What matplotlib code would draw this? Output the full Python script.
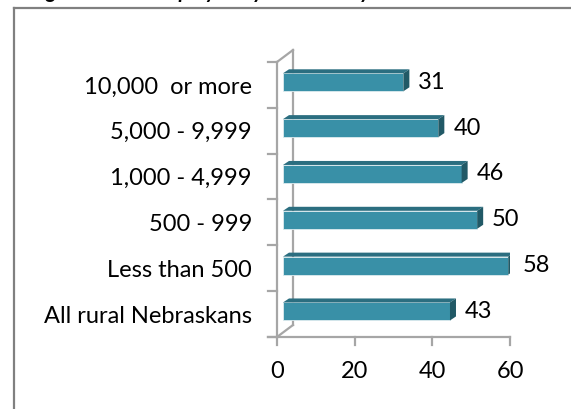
import matplotlib.pyplot as plt
from matplotlib.patches import Polygon
from matplotlib.lines import Line2D

# ============================================================
# Data
# ============================================================

categories = ['All rural Nebraskans', 'Less than 500', '500 - 999',
              '1,000 - 4,999', '5,000 - 9,999', '10,000  or more']
values = [43, 58, 50, 46, 40, 31]
xticks = [0, 20, 40, 60]

# ============================================================
# Style
# ============================================================

plt.rcParams['font.family'] = ['Lato', 'DejaVu Sans']
FRONT = '#3990A7'
TOP = '#2B6E80'
SIDE = '#215966'
AXIS = '#A6A6A6'
FS = 17
W, H = 571, 409

fig = plt.figure(figsize=(W / 100, H / 100), dpi=100)

# frame + clipped caption
fig.add_artist(Line2D([14 / W, 14 / W], [0, 1 - 8 / H], color='#808080', lw=1.6))
fig.add_artist(Line2D([14 / W, 1], [1 - 8 / H, 1 - 8 / H], color='#808080', lw=1.6))
fig.text(30 / W, 1 + 2.5 / H, 'Figure 6. Self-Employed by Community Size',
         fontsize=15, fontweight='bold', fontstyle='italic', va='baseline')

ax = fig.add_axes([277 / W, (H - 337) / H, 233 / W, 275 / H])
ax.set_xlim(0, 60)
ax.set_ylim(-0.5, len(categories) - 0.5)
for s in ax.spines.values():
    s.set_visible(False)
ax.patch.set_alpha(0)

# 3D-ish offsets (data units)
px_x = 60 / 233
px_y = len(categories) / 275
wall_dx, wall_dy = 16 * px_x, 12 * px_y
off_x, off_y = 6 * px_x, 4 * px_y
dep_x, dep_y = 6 * px_x, 4 * px_y
bar_h = 18 * px_y

# back wall + depth lines
n = len(categories)
ax.plot([wall_dx, wall_dx], [-0.5 + wall_dy, n - 0.5 + wall_dy], color=AXIS, lw=1.6, clip_on=False)
ax.plot([0, wall_dx], [n - 0.5, n - 0.5 + wall_dy], color=AXIS, lw=1.6, clip_on=False)
ax.plot([0, wall_dx], [-0.5, -0.5 + wall_dy], color=AXIS, lw=1.6, clip_on=False)
# front axes
ax.plot([0, 0], [-0.5, n - 0.5], color=AXIS, lw=1.6, clip_on=False)
ax.plot([-2.3, 60], [-0.5, -0.5], color=AXIS, lw=1.6, clip_on=False)
for k in range(n + 1):
    ax.plot([-2.3, 0], [k - 0.5, k - 0.5], color=AXIS, lw=1.6, clip_on=False)
for t in xticks:
    ax.plot([t, t], [-0.5, -0.5 - 8 * px_y], color=AXIS, lw=1.6, clip_on=False)

# bars
for i, v in enumerate(values):
    yc = i + off_y - 0.03
    x0, x1 = off_x, v + off_x
    y0, y1 = yc - bar_h / 2, yc + bar_h / 2
    ax.add_patch(Polygon([(x0, y0), (x1, y0), (x1, y1), (x0, y1)],
                         closed=True, fc=FRONT, ec='#DDEBEF', lw=0.6, zorder=3))
    ax.add_patch(Polygon([(x0, y1), (x1, y1), (x1 + dep_x, y1 + dep_y), (x0 + dep_x, y1 + dep_y)],
                         closed=True, fc=TOP, ec='none', zorder=3))
    ax.add_patch(Polygon([(x1, y0), (x1 + dep_x, y0 + dep_y), (x1 + dep_x, y1 + dep_y), (x1, y1)],
                         closed=True, fc=SIDE, ec='none', zorder=3))
    ax.text(x1 + dep_x + 2.3, yc, str(v), fontsize=FS, va='center', ha='left',
            clip_on=False)

ax.set_xticks(xticks)
ax.set_xticklabels([str(t) for t in xticks], fontsize=FS)
ax.set_yticks(range(n))
ax.set_yticklabels(categories, fontsize=FS)
ax.tick_params(axis='x', length=0, pad=17)
ax.tick_params(axis='y', length=0, pad=18)

fig.savefig('out.png', dpi=100)
